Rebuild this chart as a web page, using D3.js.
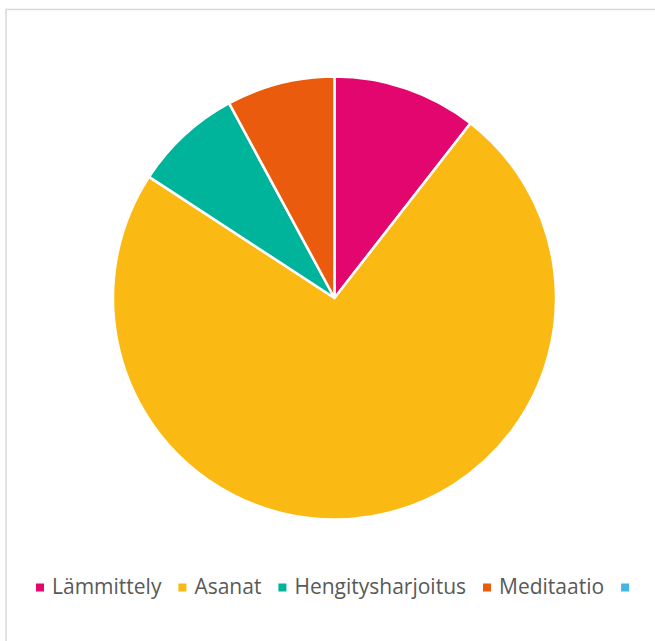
<!DOCTYPE html>
<html><head><meta charset="utf-8">
<script src="https://cdn.jsdelivr.net/npm/d3@7"></script>
<style>html,body{margin:0;padding:0;background:#fff;}</style>
</head><body>
<svg id="chart" width="655" height="641"></svg>
<script>
const categories = ["Lämmittely", "Asanat", "Hengitysharjoitus", "Meditaatio", ""];
const values = [10, 70, 7.5, 7.5, 0];
const colors = ["#E3066F", "#FBB913", "#00B39B", "#EB5B0E", "#41B6E6"];

const svg = d3.select("#chart");
svg.append("rect").attr("x", 6).attr("y", 9.5).attr("width", 700).attr("height", 700)
  .attr("fill", "#fff").attr("stroke", "#D9D9D9").attr("stroke-width", 1.5);

const cx = 334.5, cy = 298, r = 221.5;
const pie = d3.pie().sort(null).value(d => d.v);
const arc = d3.arc().innerRadius(0).outerRadius(r);
const data = categories.map((c, i) => ({c, v: values[i], col: colors[i]}));
const color = d3.scaleOrdinal().domain(categories.map((c,i)=>i)).range(colors);

const g = svg.append("g").attr("transform", `translate(${cx},${cy})`);
g.selectAll("path").data(pie(data).filter(d => d.data.v > 0)).join("path")
  .attr("d", arc).attr("fill", (d) => color(d.index))
  .attr("stroke", "#fff").attr("stroke-width", 2.5).attr("stroke-linejoin", "round");

const legend = svg.append("g");
const font = "'Open Sans', sans-serif";
const fs = 21;
let x = 36;
const ly = 587.5;
data.forEach((d, i) => {
  legend.append("rect").attr("x", x).attr("y", ly - 4).attr("width", 8).attr("height", 8).attr("fill", d.col);
  x += 16;
  const t = legend.append("text").attr("x", x).attr("y", ly + 6.5)
    .attr("font-family", font).attr("font-size", fs).attr("fill", "#595959").text(d.c);
  const w = d.c ? t.node().getComputedTextLength() : 0;
  x += w + 17;
});
</script>
</body></html>
